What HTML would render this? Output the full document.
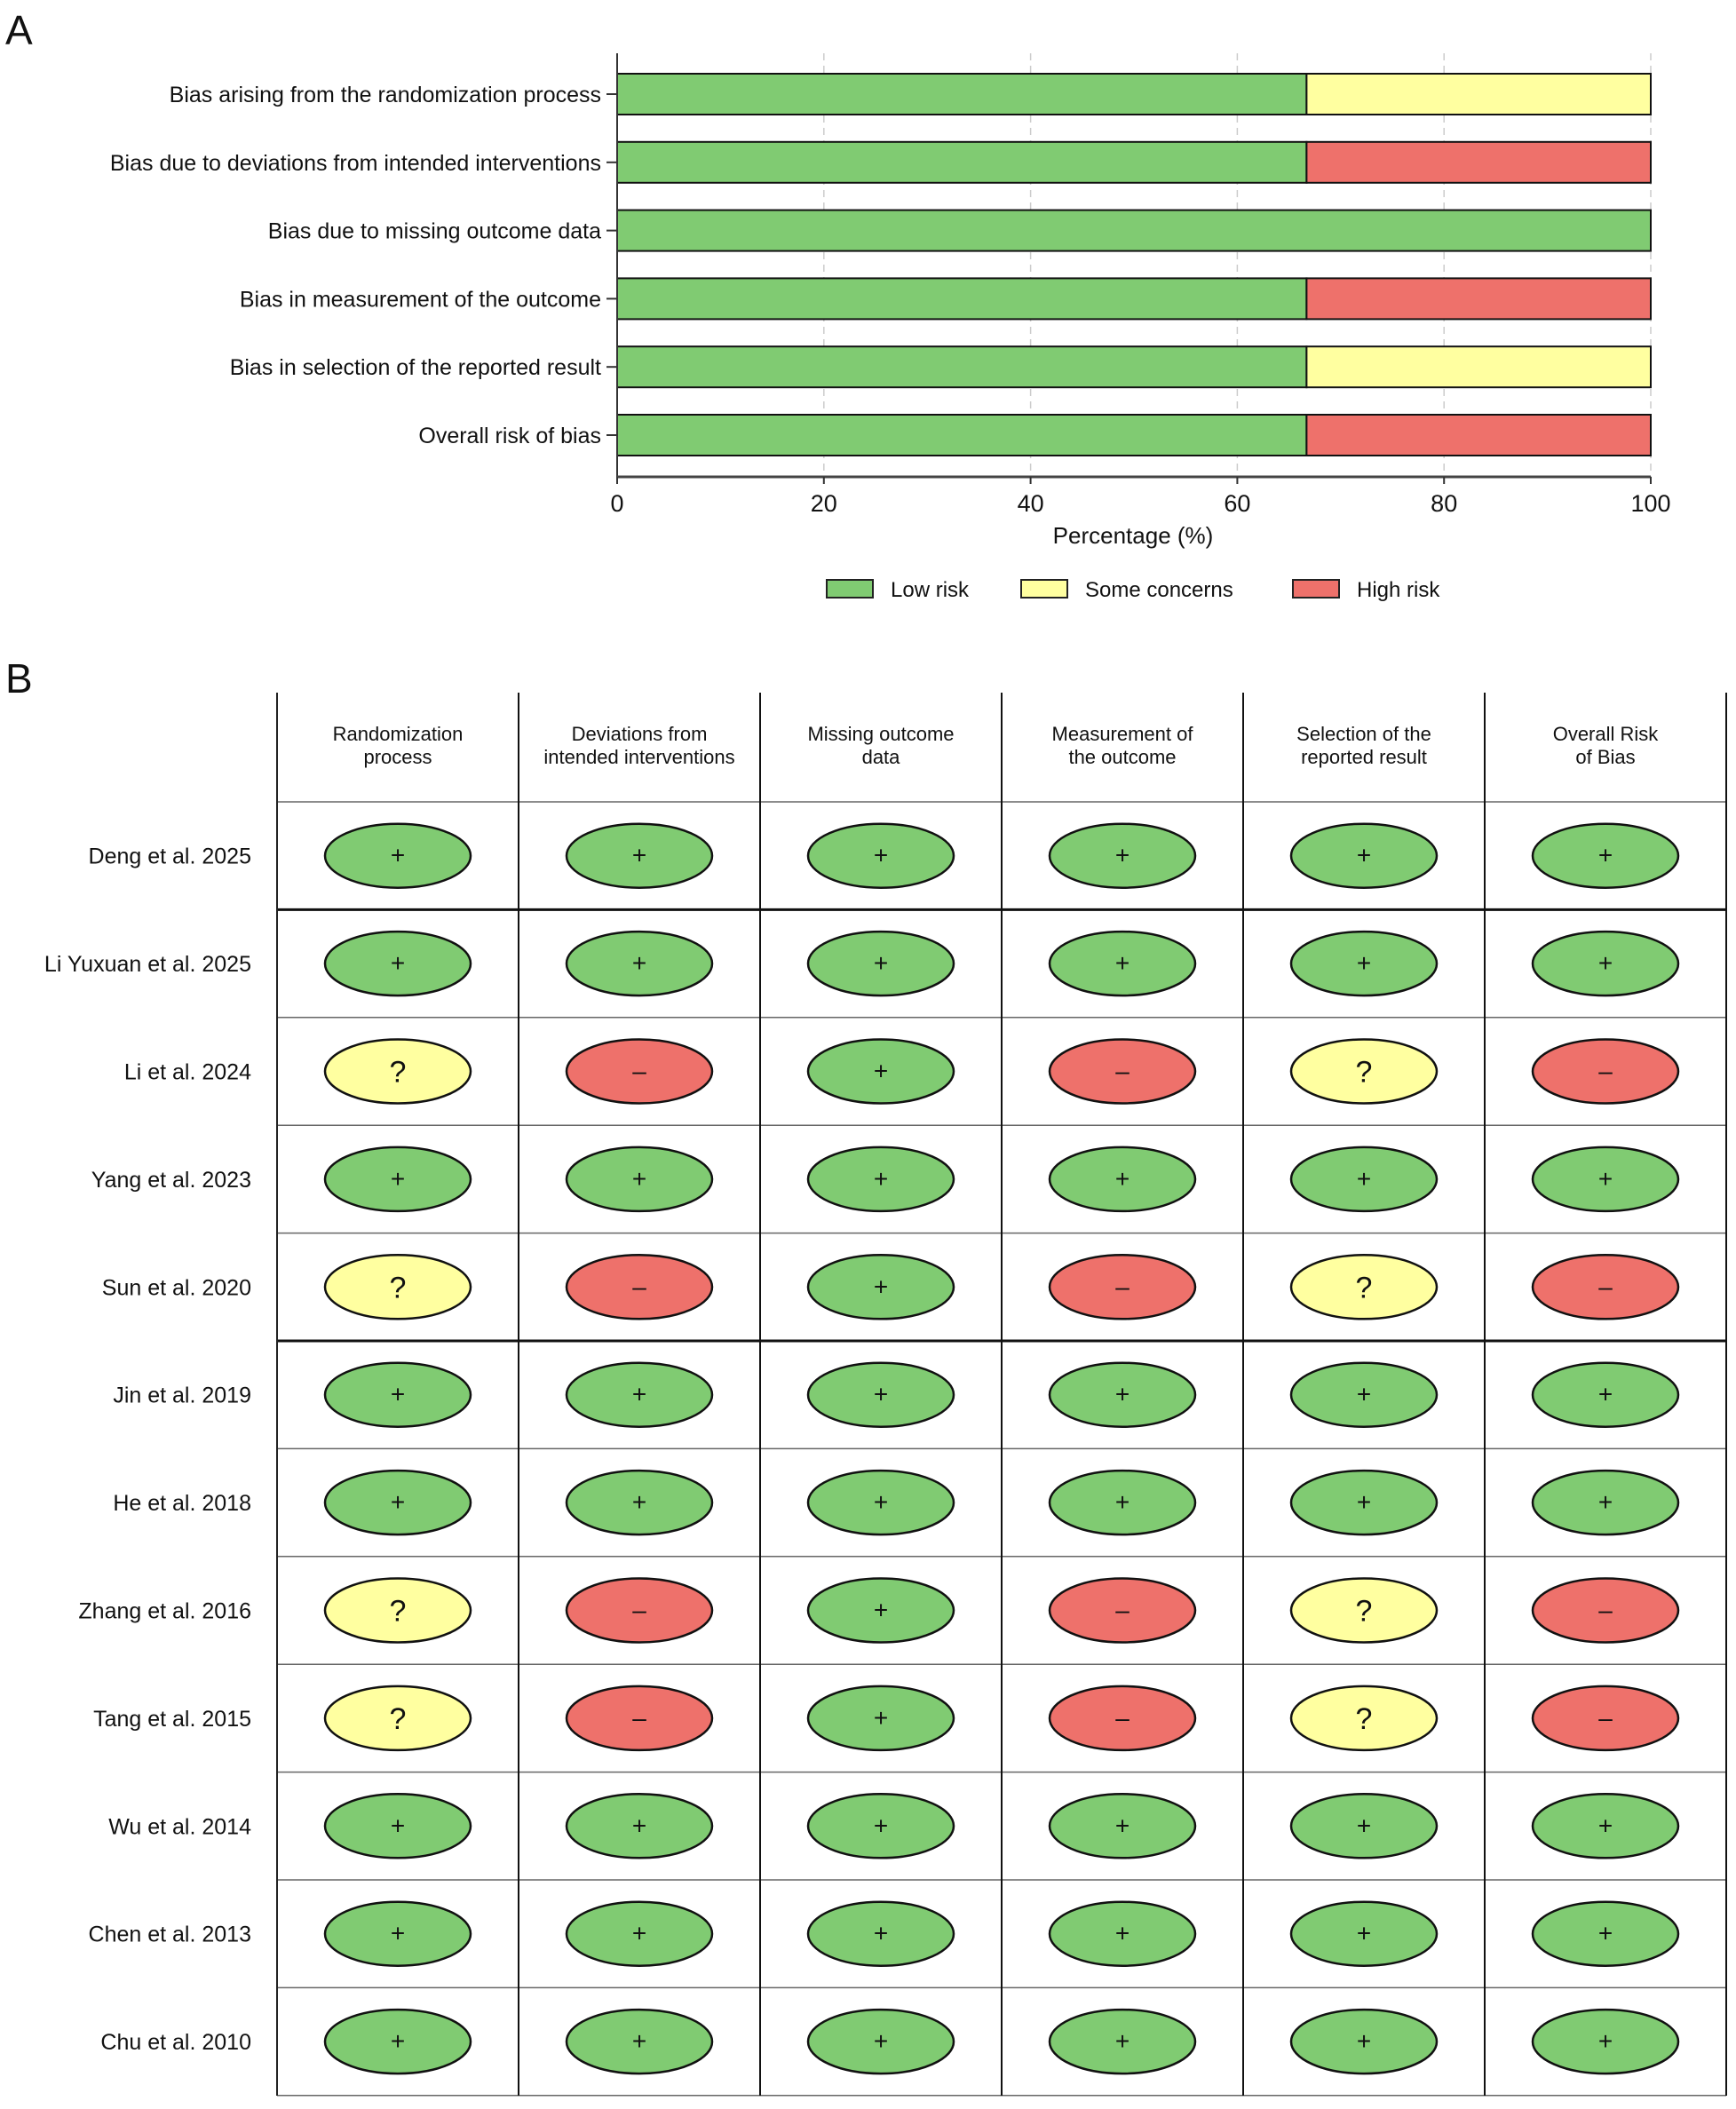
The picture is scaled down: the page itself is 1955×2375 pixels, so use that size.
<!DOCTYPE html>
<html><head><meta charset="utf-8"><style>
html,body{margin:0;padding:0;background:#fff;}
svg text{font-family:"Liberation Sans",sans-serif;fill:#111;}
</style></head><body>
<svg id="fig" width="1955" height="2370" viewBox="0 0 1955 2370" xmlns="http://www.w3.org/2000/svg">
<text x="6" y="50" font-size="46">A</text>
<text x="6" y="780" font-size="46">B</text>
<g id="panelA"></g>
<g id="panelB"></g>
</svg>
<script>
const domains = ["Bias arising from the randomization process","Bias due to deviations from intended interventions","Bias due to missing outcome data","Bias in measurement of the outcome","Bias in selection of the reported result","Overall risk of bias"];
const lowPct = [66.7,66.7,100,66.7,66.7,66.7];
const somePct = [33.3,0,0,0,33.3,0];
const highPct = [0,33.3,0,33.3,0,33.3];
const xTicks = [0,20,40,60,80,100];
const legendLabels = ["Low risk","Some concerns","High risk"];
const studies = ["Deng et al. 2025","Li Yuxuan et al. 2025","Li et al. 2024","Yang et al. 2023","Sun et al. 2020","Jin et al. 2019","He et al. 2018","Zhang et al. 2016","Tang et al. 2015","Wu et al. 2014","Chen et al. 2013","Chu et al. 2010"];
const colHeaders = [["Randomization","process"],["Deviations from","intended interventions"],["Missing outcome","data"],["Measurement of","the outcome"],["Selection of the","reported result"],["Overall Risk","of Bias"]];
const judgements = [
"++++++","++++++","?-+-?-","++++++","?-+-?-","++++++","++++++","?-+-?-","?-+-?-","++++++","++++++","++++++"];
const C={'+':'#80CB72','?':'#FFFFA0','-':'#EE716B'};
const NS="http://www.w3.org/2000/svg";
function mk(tag,attrs,parent,txt){const e=document.createElementNS(NS,tag);for(const k in attrs)e.setAttribute(k,attrs[k]);if(txt!==undefined)e.textContent=txt;parent.appendChild(e);return e;}
// Panel A
const A=document.getElementById('panelA');
const x0=695,x1=1859;const xs=v=>x0+(x1-x0)*v/100;
const yTop=60,yBot=537,rowH=76.8;const yc=i=>106+rowH*i;
xTicks.forEach(t=>{if(t>0){const g=mk('line',{x1:xs(t),x2:xs(t),y1:yTop,y2:yBot,stroke:'#ccc','stroke-width':1.5,'stroke-dasharray':'8,6'},A);}});
domains.forEach((d,i)=>{
 const y=yc(i)-23;let acc=0;
 [[lowPct[i],C['+'],'low'],[somePct[i],C['?'],'some'],[highPct[i],C['-'],'high']].forEach(s=>{
  if(s[0]<=0)return;
  const r=mk('rect',{x:xs(acc),y:y,width:xs(acc+s[0])-xs(acc),height:46,fill:s[1],stroke:'#111','stroke-width':2},A);
  
  
  acc+=s[0];});
 const t=mk('text',{x:677,y:yc(i)+9,'font-size':25,'text-anchor':'end'},A,d);
 
 
 mk('line',{x1:683,x2:695,y1:yc(i),y2:yc(i),stroke:'#333','stroke-width':2},A);
});
mk('line',{x1:x0,x2:x0,y1:yTop,y2:yBot,stroke:'#333','stroke-width':2},A);
mk('line',{x1:x0,x2:x1,y1:yBot,y2:yBot,stroke:'#444','stroke-width':3},A);
xTicks.forEach(t=>{mk('line',{x1:xs(t),x2:xs(t),y1:yBot,y2:yBot+8,stroke:'#333','stroke-width':2},A);
 const l=mk('text',{x:xs(t),y:576,'font-size':27,'text-anchor':'middle'},A,String(t));
 
 });
const xt=mk('text',{x:1276,y:612,'font-size':26,'text-anchor':'middle'},A,'Percentage (%)');


const legX=[931,1150,1456];const legC=[C['+'],C['?'],C['-']];
legendLabels.forEach((l,i)=>{
 const g=mk('g',{},A);
 
 
 mk('rect',{x:legX[i],y:653,width:52,height:20,fill:legC[i],stroke:'#222','stroke-width':2},g);
 mk('text',{x:legX[i]+72,y:672,'font-size':24},g,l);
});
// Panel B
const B=document.getElementById('panelB');
const colX=[312,584,856,1128,1400,1672,1944];
const hTop=780,hBot=903,rH=121.4;
colHeaders.forEach((h,j)=>{const cx=(colX[j]+colX[j+1])/2;
 const t=mk('text',{x:cx,y:834,'font-size':22,'text-anchor':'middle'},B);
 
 
 mk('tspan',{x:cx,dy:0},t,h[0]);mk('tspan',{x:cx,dy:26},t,h[1]);});
studies.forEach((s,i)=>{const cy=hBot+rH*(i+0.5);
 const t=mk('text',{x:283,y:cy+9,'font-size':25,'text-anchor':'end'},B,s);
 
 
 for(let j=0;j<6;j++){const v=judgements[i][j];const cx=(colX[j]+colX[j+1])/2;
  const e=mk('ellipse',{cx:cx,cy:cy,rx:82,ry:36,fill:C[v],stroke:'#111','stroke-width':2.5},B);
  
  
  mk('text',{x:cx,y:cy+(v=='?'?12:9),'font-size':v=='?'?34:28,'text-anchor':'middle'},B,v=='-'?'–':v);
 }});
for(let i=0;i<=12;i++){const y=hBot+rH*i;const thick=(i==1||i==5);
 mk('line',{x1:312,x2:1944,y1:y,y2:y,stroke:thick?'#111':'#666','stroke-width':thick?3:1.5},B);}
colX.forEach((x,j)=>mk('line',{x1:x,x2:x,y1:hTop,y2:2360,stroke:(j==0)?'#222':'#111','stroke-width':2},B));
</script>
</body></html>
